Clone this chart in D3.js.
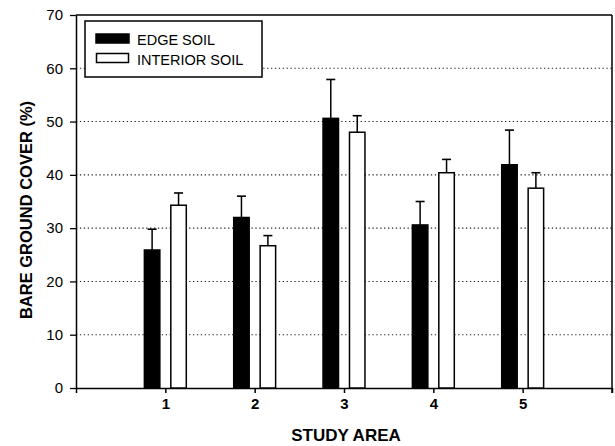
<!DOCTYPE html>
<html>
<head>
<meta charset="utf-8">
<script src="https://cdn.jsdelivr.net/npm/d3@7"></script>
<style>
  html, body { margin: 0; padding: 0; background: #fff; }
  svg { display: block; }
  text { font-family: Arial, "Liberation Sans", sans-serif; fill: #000; }
</style>
</head>
<body>
<svg id="chart" width="615" height="446"></svg>
<script>
// Bare ground cover by study area, edge vs interior soil (mean + SE)
const areas = [1, 2, 3, 4, 5];
const edgeSoil = [25.9, 32.0, 50.6, 30.6, 41.9];
const edgeSE = [3.9, 4.0, 7.3, 4.4, 6.5];
const interiorSoil = [34.3, 26.7, 48.0, 40.4, 37.5];
const interiorSE = [2.3, 1.9, 3.1, 2.5, 2.9];
const yTicks = [0, 10, 20, 30, 40, 50, 60, 70];
const seriesNames = ["EDGE SOIL", "INTERIOR SOIL"];

const svg = d3.select("#chart");
const plotL = 76, plotR = 612, plotT = 15, plotB = 388;

const x = d3.scaleLinear().domain([0, 6]).range([plotL, plotR]);
const y = d3.scaleLinear().domain([0, 70]).range([plotB, plotT]);

const barW = 0.19;      // bar width in study-area units
const barOff = 0.148;   // centre offset of each bar from the tick
const capHalf = 4.5;    // half-width of error caps, px

// dotted gridlines
svg.append("g")
  .selectAll("line")
  .data(yTicks.filter(d => d > 0 && d < 70))
  .join("line")
  .attr("x1", plotL).attr("x2", plotR)
  .attr("y1", d => y(d)).attr("y2", d => y(d))
  .attr("stroke", "#222")
  .attr("stroke-width", 1.1)
  .attr("stroke-dasharray", "1.3,2.6");

// frame top and right
svg.append("line")
  .attr("x1", plotL).attr("x2", plotR)
  .attr("y1", y(70)).attr("y2", y(70))
  .attr("stroke", "#000").attr("stroke-width", 1.3);
svg.append("line")
  .attr("x1", plotR).attr("x2", plotR)
  .attr("y1", y(70)).attr("y2", plotB + 5)
  .attr("stroke", "#000").attr("stroke-width", 1.5);

// y axis
const yAxis = svg.append("g")
  .attr("transform", `translate(${plotL},0)`)
  .call(d3.axisLeft(y).tickValues(yTicks).tickSize(6).tickPadding(7).tickSizeOuter(0));
yAxis.select(".domain").attr("stroke", "#000").attr("stroke-width", 1.5);
yAxis.selectAll(".tick line").attr("stroke", "#000").attr("stroke-width", 1.3);
yAxis.selectAll(".tick text")
  .style("font-family", "Arial, 'Liberation Sans', sans-serif")
  .style("font-size", "15px")
  .attr("fill", "#000");

// x axis
const xAxis = svg.append("g")
  .attr("transform", `translate(0,${plotB})`)
  .call(d3.axisBottom(x).tickValues([0, 1, 2, 3, 4, 5, 6])
    .tickFormat(d => areas.includes(d) ? String(d) : "")
    .tickSize(5).tickPadding(5).tickSizeOuter(0));
xAxis.select(".domain").attr("stroke", "#000").attr("stroke-width", 1.5);
xAxis.selectAll(".tick line").attr("stroke", "#000").attr("stroke-width", 1.5);
xAxis.selectAll(".tick text")
  .style("font-family", "Arial, 'Liberation Sans', sans-serif")
  .style("font-size", "15px")
  .style("font-weight", "bold")
  .attr("fill", "#000");

// bars
const groups = [
  { vals: edgeSoil, se: edgeSE, off: -barOff, fill: "#000" },
  { vals: interiorSoil, se: interiorSE, off: barOff, fill: "#fff" }
];

groups.forEach(g => {
  const rows = areas.map((a, i) => ({ a, v: g.vals[i], se: g.se[i] }));
  const cx = d => x(d.a + g.off);
  const wpx = x(barW) - x(0);

  // error bars (upper only)
  svg.append("g").selectAll("line.err")
    .data(rows).join("line")
    .attr("x1", cx).attr("x2", cx)
    .attr("y1", d => y(d.v)).attr("y2", d => y(d.v + d.se))
    .attr("stroke", "#000").attr("stroke-width", 1.5);
  svg.append("g").selectAll("line.cap")
    .data(rows).join("line")
    .attr("x1", d => cx(d) - capHalf).attr("x2", d => cx(d) + capHalf)
    .attr("y1", d => y(d.v + d.se)).attr("y2", d => y(d.v + d.se))
    .attr("stroke", "#000").attr("stroke-width", 1.6);

  svg.append("g").selectAll("rect")
    .data(rows).join("rect")
    .attr("x", d => cx(d) - wpx / 2 + 0.75)
    .attr("width", wpx - 1.5)
    .attr("y", d => y(d.v))
    .attr("height", d => y(0) - y(d.v))
    .attr("fill", g.fill)
    .attr("stroke", "#000")
    .attr("stroke-width", 1.5);
});

// legend
const lg = svg.append("g");
lg.append("rect")
  .attr("x", 85).attr("y", 21).attr("width", 177).attr("height", 56)
  .attr("fill", "#fff").attr("stroke", "#000").attr("stroke-width", 1.5);
lg.append("rect")
  .attr("x", 96).attr("y", 34).attr("width", 33).attr("height", 9)
  .attr("fill", "#000").attr("stroke", "#000").attr("stroke-width", 1.5);
lg.append("rect")
  .attr("x", 96.5).attr("y", 53.5).attr("width", 32).attr("height", 9)
  .attr("fill", "#fff").attr("stroke", "#000").attr("stroke-width", 1.5);
lg.selectAll("text.leg")
  .data(seriesNames).join("text")
  .attr("x", 137)
  .attr("y", (d, i) => 45 + i * 19.5)
  .style("font-size", "14.5px")
  .text(d => d);

// axis titles
svg.append("text")
  .attr("transform", "translate(32,210) rotate(-90)")
  .attr("text-anchor", "middle")
  .style("font-size", "16.5px")
  .style("font-weight", "bold")
  .text("BARE GROUND COVER (%)");

svg.append("text")
  .attr("x", 346).attr("y", 441)
  .attr("text-anchor", "middle")
  .style("font-size", "17px")
  .style("font-weight", "bold")
  .text("STUDY AREA");
</script>
</body>
</html>
